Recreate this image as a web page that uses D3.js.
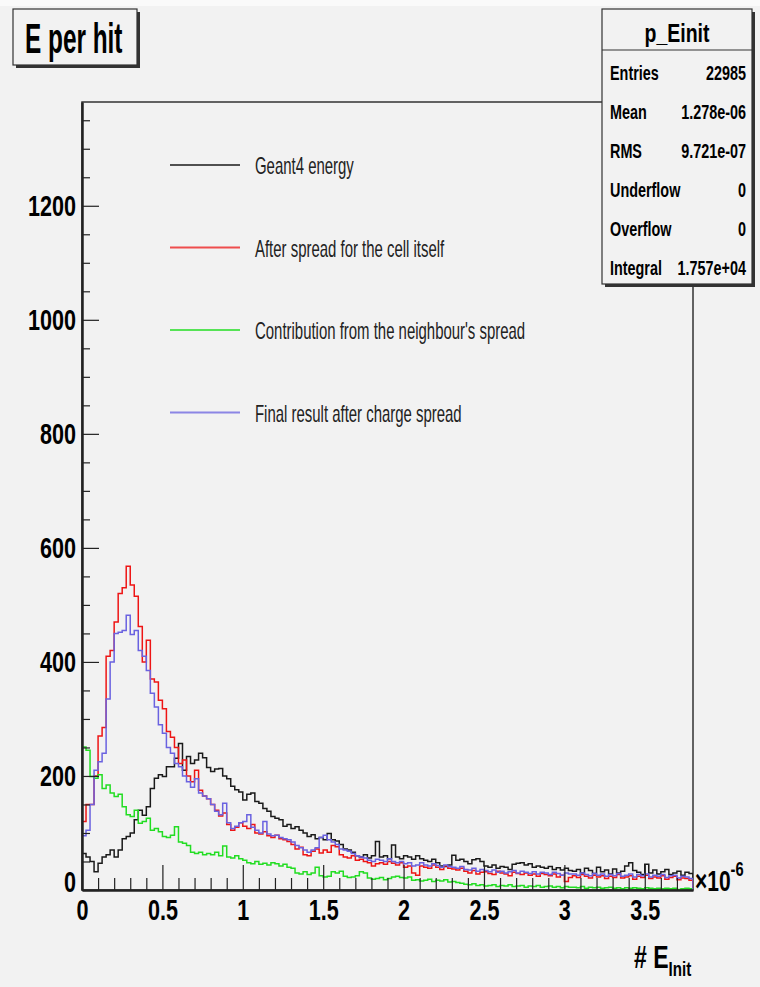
<!DOCTYPE html>
<html>
<head>
<meta charset="utf-8">
<script src="https://cdnjs.cloudflare.com/ajax/libs/d3/7.8.5/d3.min.js"></script>
<style>
  body { margin: 0; background: #f2f2f2; }
  svg { display: block; font-family: "Liberation Sans", Arial, Helvetica, sans-serif; }
</style>
</head>
<body>
<svg width="760" height="987"></svg>
<script>
// histogram binning (units of 1e-6)
var binWidth = 0.025;
var nBins = 152;

var xTicks = [0, 0.5, 1, 1.5, 2, 2.5, 3, 3.5];
var yTicks = [0, 200, 400, 600, 800, 1000, 1200];

// bin contents
var geant4 = [
  64, 58, 50, 32, 47, 58, 62, 70, 58, 70, 90, 94, 100, 123, 140, 131, 146, 178, 196, 202, 199, 216, 216, 231, 257, 210, 234, 222, 228, 240, 232,
  215, 208, 212, 213, 200, 195, 182, 176, 172, 158, 168, 170, 155, 152, 143, 138, 129, 126, 123, 112, 115, 108, 111, 105, 100, 94, 97, 90, 92, 88, 99,
  88, 86, 80, 72, 70, 66, 60, 58, 62, 56, 60, 85, 58, 60, 55, 79, 58, 55, 60, 58, 54, 60, 55, 52, 50, 54, 48, 42, 41, 44,
  61, 52, 54, 50, 46, 53, 55, 50, 42, 40, 44, 38, 41, 40, 36, 45, 47, 48, 44, 46, 40, 42, 40, 38, 41, 36, 39, 35, 38, 34,
  33, 36, 30, 38, 34, 29, 40, 32, 35, 28, 37, 30, 33, 42, 48, 34, 31, 27, 45, 30, 35, 28, 32, 36, 27, 30, 33, 26, 31, 29
];
var cellSpread = [
  120, 150, 150, 200, 270, 285, 410, 420, 470, 520, 530, 568, 535, 515, 462, 400, 438, 370, 365, 333, 318, 278, 268, 250, 222, 228, 200, 190, 210, 175, 165,
  160, 150, 140, 130, 135, 115, 105, 110, 118, 112, 108, 115, 100, 98, 102, 95, 92, 96, 90, 88, 85, 80, 72, 75, 62, 60, 68, 72, 65, 70, 66,
  78, 76, 62, 58, 56, 60, 52, 54, 50, 48, 42, 46, 48, 45, 50, 47, 44, 48, 40, 42, 30, 26, 42, 40, 38, 44, 40, 36, 42, 38,
  37, 35, 38, 33, 30, 34, 28, 31, 32, 29, 27, 33, 30, 28, 25, 31, 29, 27, 30, 26, 28, 24, 29, 27, 25, 28, 23, 26, 15, 22,
  25, 22, 27, 24, 21, 26, 23, 25, 20, 24, 22, 27, 21, 23, 25, 19, 24, 22, 26, 20, 23, 21, 25, 19, 22, 24, 18, 21, 20, 17
];
var neighbour = [
  251, 245, 199, 196, 202, 178, 184, 170, 164, 168, 146, 132, 129, 140, 117, 120, 126, 105, 108, 102, 94, 92, 96, 111, 84, 82, 78, 66, 64, 66, 62,
  64, 62, 66, 60, 77, 58, 56, 60, 55, 52, 48, 46, 50, 45, 47, 44, 48, 46, 42, 45, 40, 38, 30, 28, 32, 27, 30, 40, 25, 23, 24,
  32, 30, 33, 24, 22, 23, 25, 32, 30, 21, 19, 20, 22, 18, 20, 23, 24, 22, 21, 23, 17, 18, 16, 17, 19, 15, 17, 16, 18, 14,
  15, 13, 12, 10, 9, 11, 8, 9, 7, 8, 9, 6, 8, 7, 9, 6, 7, 8, 5, 7, 6, 8, 5, 6, 7, 5, 6, 4, 6, 5,
  5, 4, 6, 3, 5, 4, 5, 3, 4, 5, 3, 4, 2, 4, 3, 4, 3, 2, 4, 3, 2, 3, 2, 3, 2, 3, 1, 2, 3, 2
];
var finalResult = [
  95, 105, 150, 210, 225, 240, 335, 400, 450, 452, 455, 482, 448, 455, 420, 410, 385, 345, 321, 290, 275, 250, 240, 222, 216, 200, 190, 180, 195, 170, 165,
  160, 150, 138, 132, 152, 118, 108, 112, 118, 120, 132, 110, 105, 100, 120, 98, 95, 96, 92, 90, 88, 84, 78, 74, 70, 66, 70, 74, 92, 96, 88,
  84, 80, 72, 70, 68, 64, 60, 58, 56, 52, 50, 54, 52, 50, 55, 50, 48, 50, 46, 48, 42, 44, 48, 44, 42, 46, 43, 40, 44, 41,
  40, 38, 41, 36, 35, 38, 33, 36, 34, 32, 35, 31, 33, 30, 32, 34, 30, 33, 31, 29, 32, 28, 31, 30, 27, 31, 29, 26, 30, 28,
  28, 26, 30, 27, 25, 29, 26, 28, 24, 27, 25, 29, 24, 26, 28, 23, 27, 25, 28, 23, 26, 24, 27, 22, 25, 26, 21, 24, 23, 20
];

var seriesNames = ["Geant4 energy", "After spread for the cell itself",
                   "Contribution from the neighbour's spread", "Final result after charge spread"];
var seriesColors = ["#1a1a1a", "#ee1515", "#22dd22", "#6a62e0"];

var statsNames = ["Entries", "Mean", "RMS", "Underflow", "Overflow", "Integral"];
var statsValues = ["22985", "1.278e-06", "9.721e-07", "0", "0", "1.757e+04"];

var svg = d3.select("svg");

var frame = {left: 82, right: 693, top: 102, bottom: 890};

var x = d3.scaleLinear().domain([0, nBins * binWidth]).range([frame.left, frame.right]);
var y = d3.scaleLinear().domain([0, 1382]).range([frame.bottom, frame.top]);

// narrow text: the original picture is squeezed horizontally
function label(parent, px, py, txt, size, sx, anchor, weight) {
  return parent.append("text")
    .attr("transform", "translate(" + px + "," + py + ") scale(" + sx + ",1)")
    .attr("text-anchor", anchor || "start")
    .style("font-size", size + "px")
    .style("font-weight", weight || "normal")
    .attr("fill", "#000")
    .text(txt);
}

svg.append("rect").attr("width", 760).attr("height", 987).attr("fill", "#f2f2f2");
svg.append("rect").attr("width", 760).attr("height", 6).attr("fill", "#fafafa");

svg.append("defs").append("clipPath").attr("id", "plot")
  .append("rect")
  .attr("x", frame.left).attr("y", frame.top)
  .attr("width", frame.right - frame.left).attr("height", frame.bottom - frame.top);

// frame
svg.append("rect")
  .attr("x", frame.left).attr("y", frame.top)
  .attr("width", frame.right - frame.left).attr("height", frame.bottom - frame.top)
  .attr("fill", "none").attr("stroke", "#333").attr("stroke-width", 1.5);

// histograms
var step = d3.line()
  .x(function(d) { return x(d[0]); })
  .y(function(d) { return y(d[1]); })
  .curve(d3.curveStepAfter);

function histPoints(values) {
  var pts = [[0, 0]];
  values.forEach(function(v, i) { pts.push([i * binWidth, v]); });
  pts.push([values.length * binWidth, values[values.length - 1]]);
  pts.push([values.length * binWidth, 0]);
  return pts;
}

var allSeries = [geant4, cellSpread, neighbour, finalResult];
var hists = svg.append("g").attr("clip-path", "url(#plot)");
allSeries.forEach(function(vals, k) {
  hists.append("path")
    .attr("d", step(histPoints(vals)))
    .attr("fill", "none")
    .attr("stroke", seriesColors[k])
    .attr("stroke-width", 1.5)
    .attr("stroke-linejoin", "miter");
});

// axes
var yMinor = d3.range(0, 1382, 50).filter(function(v) { return v % 200 !== 0; });
var xMinor = d3.range(0, 3.8, 0.1).filter(function(v) { return Math.abs(v * 2 - Math.round(v * 2)) > 1e-6; });

svg.append("g").attr("transform", "translate(" + frame.left + ",0)")
  .call(d3.axisLeft(y).tickValues(yMinor).tickSize(-8).tickSizeOuter(0).tickFormat(""))
  .call(function(g) { g.select(".domain").remove(); });

var yAxis = svg.append("g").attr("transform", "translate(" + frame.left + ",0)")
  .call(d3.axisLeft(y).tickValues(yTicks).tickSize(-17).tickSizeOuter(0).tickPadding(0)
    .tickFormat(d3.format("d")));

svg.append("g").attr("transform", "translate(0," + frame.bottom + ")")
  .call(d3.axisBottom(x).tickValues(xMinor).tickSize(-12).tickSizeOuter(0).tickFormat(""))
  .call(function(g) { g.select(".domain").remove(); });

var xAxis = svg.append("g").attr("transform", "translate(0," + frame.bottom + ")")
  .call(d3.axisBottom(x).tickValues(xTicks).tickSize(-25).tickSizeOuter(0).tickPadding(9)
    .tickFormat(d3.format("~g")));

var labelScale = 0.72;
svg.selectAll(".tick line").attr("stroke", "#222").attr("stroke-width", 1.2);
[yAxis, xAxis].forEach(function(ax) {
  ax.select(".domain").attr("stroke", "#222").attr("stroke-width", 2.5);
  ax.selectAll("text")
    .attr("fill", "#000")
    .style("font-size", "30px")
    .style("font-weight", "bold")
    .style("font-family", "'Liberation Sans', Arial, sans-serif");
});
yAxis.selectAll("text").attr("x", -6 / labelScale).attr("transform", "scale(" + labelScale + ",1)");
yAxis.selectAll(".tick").filter(function(d) { return d === 0; }).select("text").attr("dy", "0.05em");
xAxis.selectAll("text").attr("transform", "scale(" + labelScale + ",1)");

// x10^-6 and axis title
var exp = label(svg, 695, 891, "\u00d710", 30, 0.7, "start", "bold");
exp.append("tspan").attr("dy", -15).style("font-size", "21px").text("-6");

var xt = label(svg, 634, 968, "# E", 32, 0.72, "start", "bold");
xt.append("tspan").attr("dy", 8).style("font-size", "21px").text("Init");

// legend
var legend = svg.append("g");
seriesNames.forEach(function(name, i) {
  var ly = 165 + i * 82.5;
  legend.append("line")
    .attr("x1", 170).attr("x2", 240).attr("y1", ly).attr("y2", ly)
    .attr("stroke", seriesColors[i]).attr("stroke-width", 2).attr("stroke-opacity", 0.75);
  label(legend, 255, ly + 9, name, 23, 0.65, "start", "normal").attr("fill", "#222");
});

// title box
svg.append("rect").attr("x", 16).attr("y", 12).attr("width", 124).attr("height", 56).attr("fill", "#333");
svg.append("rect").attr("x", 13).attr("y", 9).attr("width", 124).attr("height", 56)
  .attr("fill", "#f2f2f2").attr("stroke", "#333").attr("stroke-width", 1.2);
label(svg, 25, 53, "E per hit", 42, 0.58, "start", "bold");

// stats box
var sb = {x: 602, y: 9, w: 150, h: 275};
svg.append("rect").attr("x", sb.x + 3).attr("y", sb.y + 3).attr("width", sb.w).attr("height", sb.h).attr("fill", "#333");
svg.append("rect").attr("x", sb.x).attr("y", sb.y).attr("width", sb.w).attr("height", sb.h)
  .attr("fill", "#f2f2f2").attr("stroke", "#333").attr("stroke-width", 1.2);
svg.append("line").attr("x1", sb.x).attr("x2", sb.x + sb.w).attr("y1", 50).attr("y2", 50)
  .attr("stroke", "#333").attr("stroke-width", 1.2);
label(svg, sb.x + sb.w / 2, 42, "p_Einit", 25, 0.78, "middle", "bold");
statsNames.forEach(function(name, i) {
  var by = 80 + i * 39;
  label(svg, 610, by, name, 20, 0.72, "start", "bold");
  label(svg, 746, by, statsValues[i], 20, 0.72, "end", "bold");
});
</script>
</body>
</html>
